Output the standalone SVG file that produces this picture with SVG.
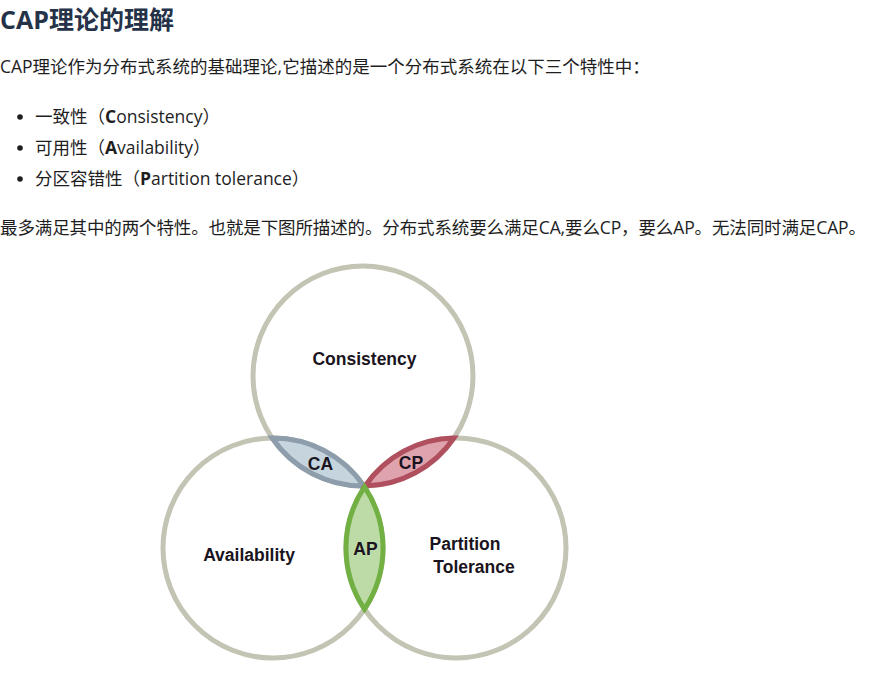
<svg xmlns="http://www.w3.org/2000/svg" width="869" height="673" viewBox="0 0 869 673">
<style>
.title{font-family:"Open Sans","Noto Sans CJK SC",sans-serif;font-size:25px;font-weight:bold;fill:#253248}
.body{font-family:"Open Sans","Noto Sans CJK SC",sans-serif;font-size:17.5px;fill:#1e1e1e}
.b{font-weight:bold}
.circle{fill:none;stroke:#c3c4b4;stroke-width:5}
.lbl{font-family:"Liberation Sans",Arial,sans-serif;font-size:17.5px;font-weight:bold;fill:#1a1420;text-anchor:middle}
.ca{fill:#c6d4dd;stroke:#8d9dab;stroke-width:5}
.cp{fill:#dfa3ae;stroke:#b0505f;stroke-width:5}
.ap{fill:#bddba6;stroke:#72b043;stroke-width:5}
</style>
<rect width="869" height="673" fill="#ffffff"/>
<g id="text">
<text class="title" x="0" y="29">CAP理论的理解</text>
<text class="body" x="0" y="73">CAP理论作为分布式系统的基础理论,它描述的是一个分布式系统在以下三个特性中：</text>
<circle cx="20" cy="117" r="2.8" fill="#1e1e1e"/>
<circle cx="20" cy="148" r="2.8" fill="#1e1e1e"/>
<circle cx="20" cy="179" r="2.8" fill="#1e1e1e"/>
<text class="body" x="35" y="123">一致性（<tspan class="b">C</tspan>onsistency）</text>
<text class="body" x="35" y="154">可用性（<tspan class="b">A</tspan>vailability）</text>
<text class="body" x="35" y="185">分区容错性（<tspan class="b">P</tspan>artition tolerance）</text>
<text class="body" x="0" y="234" textLength="866" lengthAdjust="spacing">最多满足其中的两个特性。也就是下图所描述的。分布式系统要么满足CA,要么CP，要么AP。无法同时满足CAP。</text>
</g>
<g id="consistency">
<circle class="circle" cx="363" cy="376" r="110"/>
<text class="lbl" x="364.5" y="365" font-size="18">Consistency</text>
</g>
<g id="availability">
<circle class="circle" cx="273" cy="548" r="110"/>
<text class="lbl" x="249" y="561">Availability</text>
</g>
<g id="partition">
<circle class="circle" cx="456" cy="548" r="110"/>
<text class="lbl" x="465" y="550" font-size="18">Partition</text>
<text class="lbl" x="474" y="573" font-size="18">Tolerance</text>
</g>
<g id="ca">
<path class="ca" d="M272.1,438 A110,110 0 0 0 363.9,486 A110,110 0 0 0 272.1,438 Z"/>
<text class="lbl" x="320.5" y="470">CA</text>
</g>
<g id="cp">
<path class="cp" d="M365.1,486 A110,110 0 0 0 453.9,438 A110,110 0 0 0 365.1,486 Z"/>
<text class="lbl" x="411" y="469">CP</text>
</g>
<g id="ap">
<path class="ap" d="M364.5,486.9 A110,110 0 0 1 364.5,609.1 A110,110 0 0 1 364.5,486.9 Z"/>
<text class="lbl" x="365.5" y="555">AP</text>
</g>
</svg>
